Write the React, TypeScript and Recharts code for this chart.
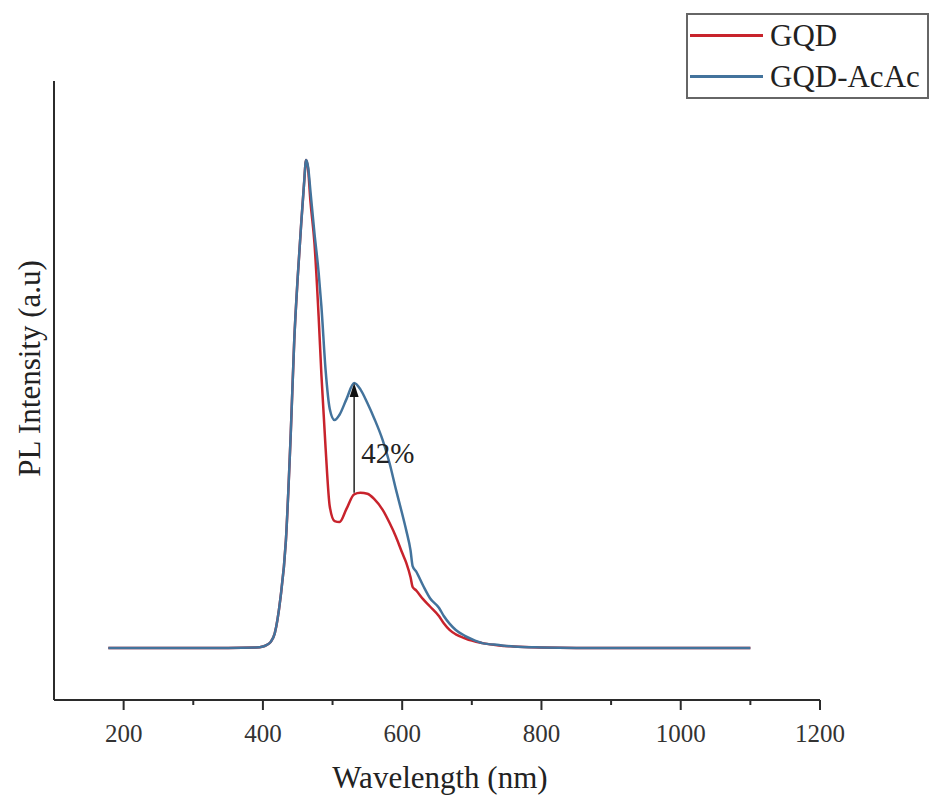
import React from 'react';
import {
  LineChart,
  Line,
  XAxis,
  YAxis,
  Legend,
  ReferenceLine,
  ReferenceDot,
} from 'recharts';

const wavelengths = [
  178, 250, 300, 350, 390, 400, 405, 411, 417, 425, 433, 440, 445, 450, 455, 459, 462, 465, 468, 474,
  480, 484, 490, 496, 503, 510, 520, 531, 540, 550, 560, 572, 582, 591, 600, 606, 612, 615, 620, 630,
  640, 653, 660, 668, 677, 690, 700, 715, 739, 760, 800, 850, 900, 1000, 1100,
];

const gqd = [
  0, 0, 0, 0, 0.001, 0.003, 0.006, 0.012, 0.03, 0.1, 0.22, 0.44, 0.63, 0.76, 0.87, 0.95, 1.0, 0.98, 0.92, 0.83,
  0.68, 0.56, 0.41, 0.29, 0.26, 0.258, 0.285, 0.315, 0.318, 0.316, 0.305, 0.283, 0.256, 0.228, 0.195, 0.174, 0.145, 0.125, 0.118, 0.1,
  0.085, 0.065, 0.05, 0.037, 0.028, 0.02, 0.015, 0.01, 0.005, 0.003, 0.001, 0, 0, 0, 0,
];

const gqdAcAc = [
  0, 0, 0, 0, 0.001, 0.003, 0.006, 0.012, 0.03, 0.1, 0.22, 0.44, 0.63, 0.76, 0.87, 0.95, 1.0, 0.985, 0.94, 0.85,
  0.77, 0.7, 0.57, 0.49, 0.467, 0.478, 0.51, 0.543, 0.53, 0.502, 0.47, 0.426, 0.378, 0.325, 0.275, 0.24, 0.2, 0.168, 0.157, 0.128,
  0.102, 0.082, 0.065, 0.05, 0.037, 0.025, 0.018, 0.01, 0.006, 0.003, 0.001, 0, 0, 0, 0,
];

const xTicks = [200, 300, 400, 500, 600, 700, 800, 900, 1000, 1100, 1200];
const majorTicks = [200, 400, 600, 800, 1000, 1200];

const arrowX = 531;
const arrowFrom = 0.318;
const arrowTo = 0.543;
const annotationY = 0.379;
const annotation = '42%';

const data = wavelengths.map((w, i) => ({ w, gqd: gqd[i], acac: gqdAcAc[i] }));

const FONT = '"Liberation Serif", "Times New Roman", serif';
const INK = '#2b2b2b';
const RED = '#c8232c';
const BLUE = '#43739c';

const XTick = (props: any) => {
  const { x, y, payload } = props;
  const major = majorTicks.includes(payload.value);
  return (
    <g>
      <line x1={x} y1={y} x2={x} y2={y + (major ? 10 : 5)} stroke={INK} strokeWidth={2} />
      {major && (
        <text x={x} y={y + 42} textAnchor="middle" fontFamily={FONT} fontSize={25} fill="#333">
          {payload.value}
        </text>
      )}
    </g>
  );
};

const LegendBox = (props: any) => {
  const { payload } = props;
  return (
    <div
      style={{
        border: '2px solid #666',
        boxSizing: 'border-box',
        height: 86,
        width: 243,
        background: '#fff',
      }}
    >
      {payload.map((p: any) => (
        <div key={p.value} style={{ display: 'flex', alignItems: 'center', height: 41 }}>
          <div style={{ width: 73, height: 3, background: p.color, marginLeft: 2, marginRight: 7 }} />
          <span style={{ fontFamily: FONT, fontSize: 31, color: '#222', lineHeight: '41px' }}>{p.value}</span>
        </div>
      ))}
    </div>
  );
};

const Arrow = (props: any) => {
  const { x1, y1, x2, y2 } = props;
  const top = Math.min(y1, y2);
  const bottom = Math.max(y1, y2);
  return (
    <g>
      <line x1={x1} y1={bottom} x2={x2} y2={top + 10} stroke="#222" strokeWidth={1.5} />
      <polygon points={`${x1},${top} ${x1 - 4.5},${top + 14} ${x1 + 4.5},${top + 14}`} fill="#111" />
    </g>
  );
};

const AnnotationText = (props: any) => {
  const { cx, cy } = props;
  return (
    <text x={cx + 7} y={cy} fontFamily={FONT} fontSize={29} fill="#222">
      {annotation}
    </text>
  );
};

const YLabel = (props: any) => {
  const { viewBox } = props;
  const cx = viewBox.x + 40;
  const cy = viewBox.y + viewBox.height / 2 - 22;
  return (
    <text
      x={cx}
      y={cy}
      transform={`rotate(-90 ${cx} ${cy})`}
      textAnchor="middle"
      fontFamily={FONT}
      fontSize={31}
      fill="#222"
    >
      PL Intensity (a.u)
    </text>
  );
};

const XLabel = (props: any) => {
  const { viewBox } = props;
  const cx = viewBox.x + viewBox.width / 2 + 3;
  const by = viewBox.y + 88;
  return (
    <text x={cx} y={by} textAnchor="middle" fontFamily={FONT} fontSize={31} fill="#222">
      Wavelength (nm)
    </text>
  );
};

export default function App() {
  return (
    <div style={{ width: 930, height: 796, background: '#fff' }}>
      <style>{'body{margin:0}'}</style>
      <LineChart width={930} height={796} data={data} margin={{ top: 81, right: 110, bottom: 56, left: 0 }}>
        <XAxis
          dataKey="w"
          type="number"
          domain={[100, 1200]}
          ticks={xTicks}
          interval={0}
          height={40}
          tickLine={false}
          tickSize={0}
          tickMargin={0}
          tick={<XTick />}
          axisLine={{ stroke: INK, strokeWidth: 2 }}
          allowDataOverflow
          label={<XLabel />}
        />
        <YAxis
          type="number"
          domain={[-0.1066, 1.162]}
          width={54}
          tick={false}
          tickLine={false}
          axisLine={{ stroke: INK, strokeWidth: 2 }}
          allowDataOverflow
          label={<YLabel />}
        />
        <Legend
          layout="horizontal"
          verticalAlign="middle"
          align="center"
          wrapperStyle={{ left: 686, top: 13, width: 243 }}
          content={<LegendBox />}
        />
        <Line
          type="monotone"
          dataKey="gqd"
          name="GQD"
          stroke={RED}
          strokeWidth={2.5}
          dot={false}
          isAnimationActive={false}
        />
        <Line
          type="monotone"
          dataKey="acac"
          name="GQD-AcAc"
          stroke={BLUE}
          strokeWidth={2.5}
          dot={false}
          isAnimationActive={false}
        />
        <ReferenceLine
          segment={[
            { x: arrowX, y: arrowFrom },
            { x: arrowX, y: arrowTo },
          ]}
          shape={<Arrow />}
        />
        <ReferenceDot x={arrowX} y={annotationY} r={0} shape={<AnnotationText />} />
      </LineChart>
    </div>
  );
}
